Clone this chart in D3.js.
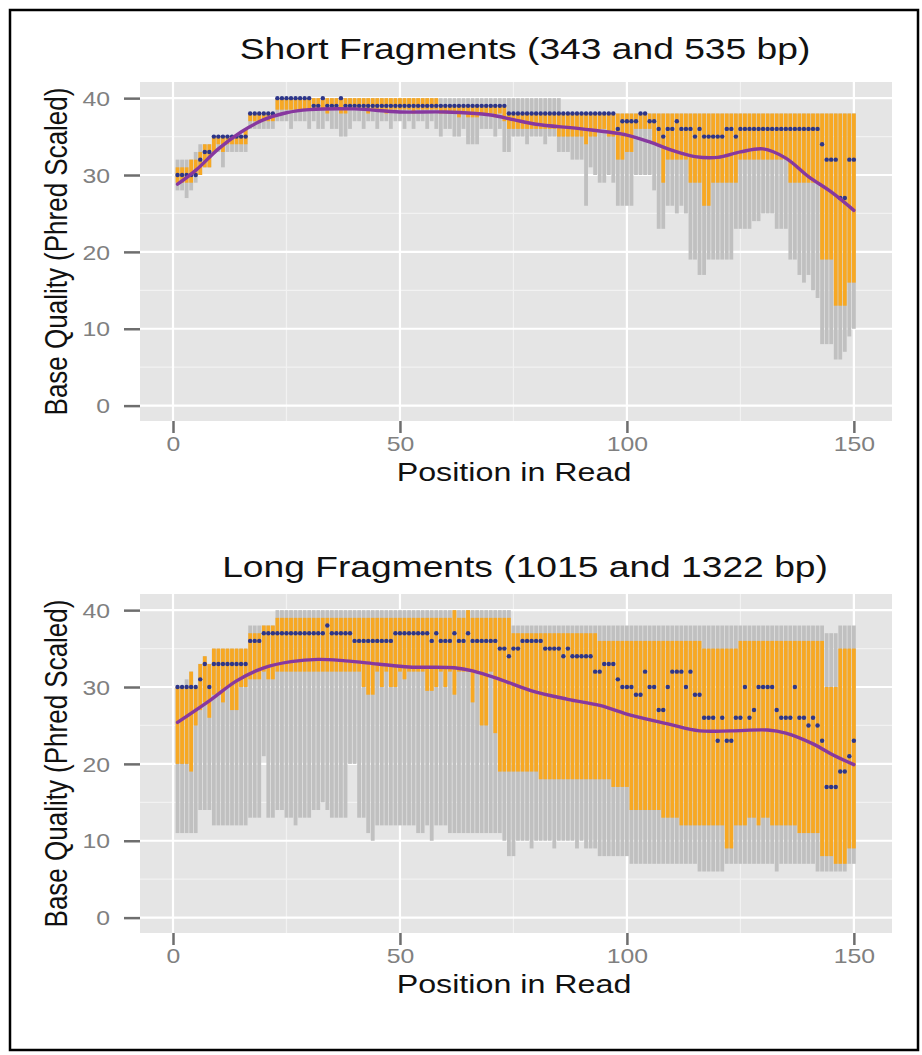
<!DOCTYPE html>
<html>
<head>
<meta charset="utf-8">
<script src="https://cdn.jsdelivr.net/npm/d3@7"></script>
<style>
  body { margin: 0; background: #fff; }
  text { font-family: "Liberation Sans", Arial, sans-serif; }
</style>
</head>
<body>
<div id="chart"></div>
<script>
// ---- data: base quality per position (whisker low, Q1, median, Q3, whisker high) ----
var positions = d3.range(1, 151)

var shortLow = [
  28,28,27,28,29,30,31,31,33,33, 31,33,33,33,33,33,36,36,36,36,
  36,36,37,37,37,36,37,37,37,36, 37,36,36,37,36,36,35,35,36,37,
  37,36,37,37,36,37,37,36,37,37, 36,37,36,37,37,36,37,36,35,36,
  36,35,35,36,34,34,34,36,36,36, 35,36,33,33,35,35,35,34,35,35,
  35,34,35,35,33,33,33,32,32,32, 26,31,30,29,29,30,29,26,26,26,
  26,30,30,30,30,28,23,23,26,26, 25,26,25,19,19,17,17,19,19,19,
  19,19,19,23,23,23,23,24,24,25, 25,25,23,23,23,19,19,17,16,17,
  15,14,8,8,8,6,6,7,9,10]
var shortQ1 = [
  29,29,29,29,30,30,31,31,33,34, 33,34,34,34,34,34,37,37,37,37,
  37,37,38.5,38.5,38.5,38.5,38.5,38.5,38.5,38.5, 38.5,38.5,38.5,38,38.5,38.5,38,38,38.5,38.5,
  38.5,38.5,38,38.5,38.5,38.5,38,38.5,38.5,38.5, 38.5,38.5,38,38.5,38.5,38.5,38.5,38.5,38,38,
  38,38,37.5,38,37.5,37.5,37.5,38,38,38, 37.5,38,37,36,36,36,36,36,36,36,
  36,36,36,36,35,35,35,35,35,35, 34,35,35,36,36,35,35,32,32,33,
  33,36,36,36,36,34,34,29,32,32, 32,32,32,29,29,29,26,26,29,29,
  29,29,29,29,32,32,32,32,32,32, 32,32,32,32,32,29,29,29,29,29,
  29,29,19,19,19,13,13,13,16,16]
var shortMed = [
  30,30,30,30,30,32,33,33,35,35, 35,35,35,35,35,35,38,38,38,38,
  38,38,40,40,40,40,40,40,40,40, 39,39,40,39,39,39,40,39,39,39,
  39,39,39,39,39,39,39,39,39,39, 39,39,39,39,39,39,39,39,39,39,
  39,39,39,39,39,39,39,39,39,39, 39,39,39,38,38,38,38,38,38,38,
  38,38,38,38,38,38,38,38,38,38, 38,38,38,38,38,38,38,36,37,37,
  37,37,38,38,37,37,36,35,36,36, 37,36,36,36,35,36,35,35,35,35,
  35,36,36,35,36,36,36,36,36,36, 36,36,36,36,36,36,36,36,36,36,
  36,36,34,32,32,32,27,27,32,32]
var shortQ3 = [
  31,31,31,32,32,33,34,34,35,35, 35,35,35,35,35,36,38,38,38,38,
  38,38,40,40,40,40,40,40,40,40, 40,40,40,40,40,40,40,40,40,40,
  40,40,40,40,40,40,40,40,40,40, 40,40,40,40,40,40,40,40,39,39,
  39,39,39,39,39,39,39,39,39,39, 39,39,39,38,38,38,38,38,38,38,
  38,38,38,38,38,38,38,38,38,38, 38,38,38,38,38,38,38,38,38,38,
  38,38,38,38,38,38,38,38,38,38, 38,38,38,38,38,38,38,38,38,38,
  38,38,38,38,38,38,38,38,38,38, 38,38,38,38,38,38,38,38,38,38,
  38,38,38,38,38,38,38,38,38,38]
var shortHigh = [
  32,32,32,32,33,34,34,34,35,35, 35,35,35,35,35,36,38,38,38,38,
  38,38,40,40,40,40,40,40,40,40, 40,40,40,40,40,40,40,40,40,40,
  40,40,40,40,40,40,40,40,40,40, 40,40,40,40,40,40,40,40,40,40,
  40,40,40,40,40,40,40,40,40,40, 40,40,40,40,40,40,40,40,40,40,
  40,40,40,40,40,38,38,38,38,38, 38,38,38,38,38,38,38,38,38,38,
  38,38,38,38,38,38,38,38,38,38, 38,38,38,38,38,38,38,38,38,38,
  38,38,38,38,38,38,38,38,38,38, 38,38,38,38,38,38,38,38,38,38,
  38,38,38,38,38,38,38,38,38,38]

var longLow = [
  11,11,11,11,11,14,14,14,12,12, 12,12,12,12,12,12,13,13,13,21,
  13,13,14,14,13,13,12,13,13,13, 14,14,15,14,13,13,13,13,20,20,
  13,13,11,10,12,12,12,12,12,12, 12,12,12,11,11,12,10,12,12,12,
  11,11,11,11,11,11,11,11,11,11, 11,11,10,8,8,10,10,10,9,10,
  10,10,10,9,10,10,10,10,9,10, 9,9,9,8,8,8,8,8,8,8,
  7,7,7,7,7,7,7,7,7,7, 7,7,7,7,7,6,6,6,6,6,
  6,7,7,7,7,7,7,7,7,7, 7,7,6,7,7,7,7,7,7,7,
  7,6,6,6,6,6,6,6,7,7]
var longQ1 = [
  20,20,20,19,25,27,28,26,29,29, 28,30,27,27,30,30,31,31,31,32,
  31,31,32,32,32,32,32,32,32,32, 32,32,32,32,32,32,32,32,32,32,
  32,30,29,29,32,30,32,30,30,32, 31,32,32,32,32,29.5,29.5,30,32,30,
  32,29,32,32,32,28,32,25,25,32, 24,19,19,19,19,19,19,19,19,19,
  18,18,18,18,18,18,18,18,18,18, 18,18,18,18,18,18,17,17,17,17,
  14,14,14,14,14,14,14,13,13,13, 13,12,12,12,12,12,12,12,12,12,
  12,9,9,12,12,12,13,13,12,13, 13,12,12,12,12,12,12,11,11,11,
  11,11,8,8,8,7,7,7,9,9]
var longMed = [
  30,30,30,30,30,31,33,30,33,33, 33,33,33,33,33,33,36,36,36,37,
  37,37,37,37,37,37,37,37,37,37, 37,37,37,38,37,37,37,37,37,36,
  36,36,36,36,36,36,36,36,37,37, 37,37,37,37,37,37,36,37,36,36,
  36,37,36,36,37,36,36,36,36,36, 36,35,35,34,35,35,36,36,36,36,
  36,35,35,35,35,34,35,34,34,34, 34,34,32,32,33,33,33,31,30,30,
  30,29,29,32,30,30,27,27,30,32, 32,32,30,32,29,29,26,26,26,23,
  26,23,23,26,26,30,26,27,30,30, 30,30,27,26,26,26,30,26,26,25,
  26,25,23,17,17,17,19,19,21,23]
var longQ3 = [
  30,30,30,32,30,33,34,33,35,35, 35,35,35,35,35,35,37,37,37,38,
  38,38,39,39,39,39,39,39,39,39, 39,39,39,39,39,39,39,39,39,39,
  39,39,39,39,39,39,39,39,39,39, 39,39,39,39,39,39,39,39,39,39,
  39,40,39,39,40,39,39,39,39,39, 39,39,39,39,37,37,37,37,37,37,
  37,37,37,37,37,37,37,37,37,37, 37,37,37,36,36,36,36,36,36,36,
  36,36,36,36,36,36,36,36,36,36, 36,36,36,36,36,36,35,35,35,35,
  35,35,35,35,36,36,36,36,36,36, 36,36,36,36,36,36,36,36,36,36,
  36,36,36,30,30,30,35,35,35,35]
var longHigh = [
  30,30,31,32,30,33,34,33,35,35, 35,35,35,35,35,35,38,38,38,38,
  38,38,40,40,40,40,40,40,40,40, 40,40,40,40,40,40,40,40,40,40,
  40,40,40,40,40,40,40,40,40,40, 40,40,40,40,40,40,40,40,40,40,
  40,40,40,40,40,40,40,40,40,40, 40,40,40,40,38,38,38,38,38,38,
  38,38,38,38,38,38,38,38,38,38, 38,38,38,38,38,38,38,38,38,38,
  38,38,38,38,38,38,38,38,38,38, 38,38,38,38,38,38,38,38,38,38,
  38,38,38,38,38,38,38,38,38,38, 38,38,38,38,38,38,38,38,38,38,
  38,38,38,37,37,37,38,38,38,38]

// smoothed mean quality
var shortSmoothPos = [1,5,10,15,20,25,30,40,50,60,70,75,80,90,100,105,110,115,120,125,130,135,140,145,150]
var shortSmoothVal = [28.8,30.6,33.4,35.6,37.2,38.1,38.5,38.6,38.2,38.2,37.8,37.2,36.6,36.0,35.2,34.3,33.2,32.4,32.3,33.0,33.4,32.2,29.8,27.8,25.4]
var longSmoothPos = [1,8,14,20,26,32,38,45,52,62,66,72,79,87,94,101,109,116,123,131,135,141,145,150]
var longSmoothVal = [25.4,28.2,30.8,32.5,33.3,33.6,33.4,33.0,32.6,32.5,32.1,31.0,29.5,28.4,27.6,26.3,25.2,24.3,24.3,24.4,24.0,22.6,21.3,19.9]

var xTicks = [0, 50, 100, 150]
var yTicks = [0, 10, 20, 30, 40]

// ---- layout ----
var W = 922, H = 1055
var panelLeft = 140, panelRight = 892, panelH = 339
var sx = 1.24   // the source figure is stretched horizontally
var grey = "#c0c0c0", orange = "#f7a823", navy = "#2d3589", purple = "#87389f"

var svg = d3.select("#chart").append("svg")
    .attr("width", W)
    .attr("height", H)

svg.append("rect")
    .attr("x", 10).attr("y", 10)
    .attr("width", 908).attr("height", 1040)
    .attr("fill", "none")
    .attr("stroke", "#000")
    .attr("stroke-width", 2.5)

var x = d3.scaleLinear().domain([-7.27, 158.4]).range([panelLeft, panelRight])

function drawPanel(top, title, titleGap, low, q1, med, q3, high, smPos, smVal) {
    var bottom = top + panelH
    var y = d3.scaleLinear().domain([-2, 42.1]).range([bottom, top])
    var g = svg.append("g")

    g.append("rect")
        .attr("x", panelLeft).attr("y", top)
        .attr("width", panelRight - panelLeft).attr("height", panelH)
        .attr("fill", "#e5e5e5")

    // minor grid
    g.selectAll(".ymin").data([5, 15, 25, 35]).enter().append("line")
        .attr("x1", panelLeft).attr("x2", panelRight)
        .attr("y1", d => y(d)).attr("y2", d => y(d))
        .attr("stroke", "#f2f2f2").attr("stroke-width", 1.2)
    g.selectAll(".xmin").data([25, 75, 125]).enter().append("line")
        .attr("y1", top).attr("y2", bottom)
        .attr("x1", d => x(d)).attr("x2", d => x(d))
        .attr("stroke", "#f2f2f2").attr("stroke-width", 1.2)
    // major grid
    g.selectAll(".ymaj").data(yTicks).enter().append("line")
        .attr("x1", panelLeft).attr("x2", panelRight)
        .attr("y1", d => y(d)).attr("y2", d => y(d))
        .attr("stroke", "#fff").attr("stroke-width", 2.2)
    g.selectAll(".xmaj").data(xTicks).enter().append("line")
        .attr("y1", top).attr("y2", bottom)
        .attr("x1", d => x(d)).attr("x2", d => x(d))
        .attr("stroke", "#fff").attr("stroke-width", 2.2)

    var bw = 0.42
    // whisker range (grey)
    g.selectAll(".whisk").data(positions).enter().append("rect")
        .attr("x", d => x(d - bw))
        .attr("width", x(bw) - x(-bw))
        .attr("y", (d, i) => y(high[i]))
        .attr("height", (d, i) => y(low[i]) - y(high[i]))
        .attr("fill", grey)
    // interquartile (orange)
    g.selectAll(".iqr").data(positions).enter().append("rect")
        .attr("x", d => x(d - bw))
        .attr("width", x(bw) - x(-bw))
        .attr("y", (d, i) => y(q3[i]))
        .attr("height", (d, i) => y(q1[i]) - y(q3[i]))
        .attr("fill", orange)
    // medians
    g.selectAll(".med").data(positions).enter().append("circle")
        .attr("cx", d => x(d))
        .attr("cy", (d, i) => y(med[i]))
        .attr("r", 2.2)
        .attr("fill", navy)

    // smoothed mean
    var line = d3.line()
        .x(d => x(d[0]))
        .y(d => y(d[1]))
        .curve(d3.curveCatmullRom.alpha(0.5))
    g.append("path")
        .datum(d3.zip(smPos, smVal))
        .attr("d", line)
        .attr("fill", "none")
        .attr("stroke", purple)
        .attr("stroke-width", 3.4)
        .attr("stroke-linecap", "round")

    // axes
    var ya = g.append("g")
        .attr("transform", "translate(" + panelLeft + ",0)")
        .call(d3.axisLeft(y).tickValues(yTicks).tickSize(16).tickFormat(d3.format("d")))
    ya.select(".domain").remove()
    ya.selectAll("line").attr("stroke", "#6e6e6e").attr("stroke-width", 2.5)
    ya.selectAll("text")
        .attr("x", 0).attr("dy", "0.36em")
        .attr("transform", "translate(-30,0) scale(" + sx + ",1)")
        .attr("fill", "#808080")
        .style("font-size", "20px")
        .style("font-family", "'Liberation Sans', Arial, sans-serif")

    var xa = g.append("g")
        .attr("transform", "translate(0," + bottom + ")")
        .call(d3.axisBottom(x).tickValues(xTicks).tickSize(12).tickFormat(d3.format("d")))
    xa.select(".domain").remove()
    xa.selectAll("line").attr("stroke", "#6e6e6e").attr("stroke-width", 2.5)
    xa.selectAll("text")
        .attr("y", 30).attr("dy", 0)
        .attr("transform", "scale(" + sx + ",1)")
        .attr("fill", "#808080")
        .style("font-size", "20px")
        .style("font-family", "'Liberation Sans', Arial, sans-serif")

    // titles
    g.append("text")
        .attr("transform", "translate(525," + (top - titleGap) + ") scale(" + sx + ",1)")
        .attr("text-anchor", "middle")
        .style("font-size", "30px")
        .attr("fill", "#111")
        .text(title)
    g.append("text")
        .attr("transform", "translate(514," + (bottom + 60) + ") scale(" + sx + ",1)")
        .attr("text-anchor", "middle")
        .style("font-size", "26px")
        .attr("fill", "#111")
        .text("Position in Read")
    g.append("text")
        .attr("transform", "translate(67," + (top + panelH / 2) + ") scale(" + sx + ",1) rotate(-90)")
        .attr("text-anchor", "middle")
        .style("font-size", "26px")
        .attr("fill", "#111")
        .text("Base Quality (Phred Scaled)")
}

drawPanel(82, "Short Fragments (343 and 535 bp)", 23,
    shortLow, shortQ1, shortMed, shortQ3, shortHigh, shortSmoothPos, shortSmoothVal)
drawPanel(594, "Long Fragments (1015 and 1322 bp)", 17,
    longLow, longQ1, longMed, longQ3, longHigh, longSmoothPos, longSmoothVal)
</script>
</body>
</html>
